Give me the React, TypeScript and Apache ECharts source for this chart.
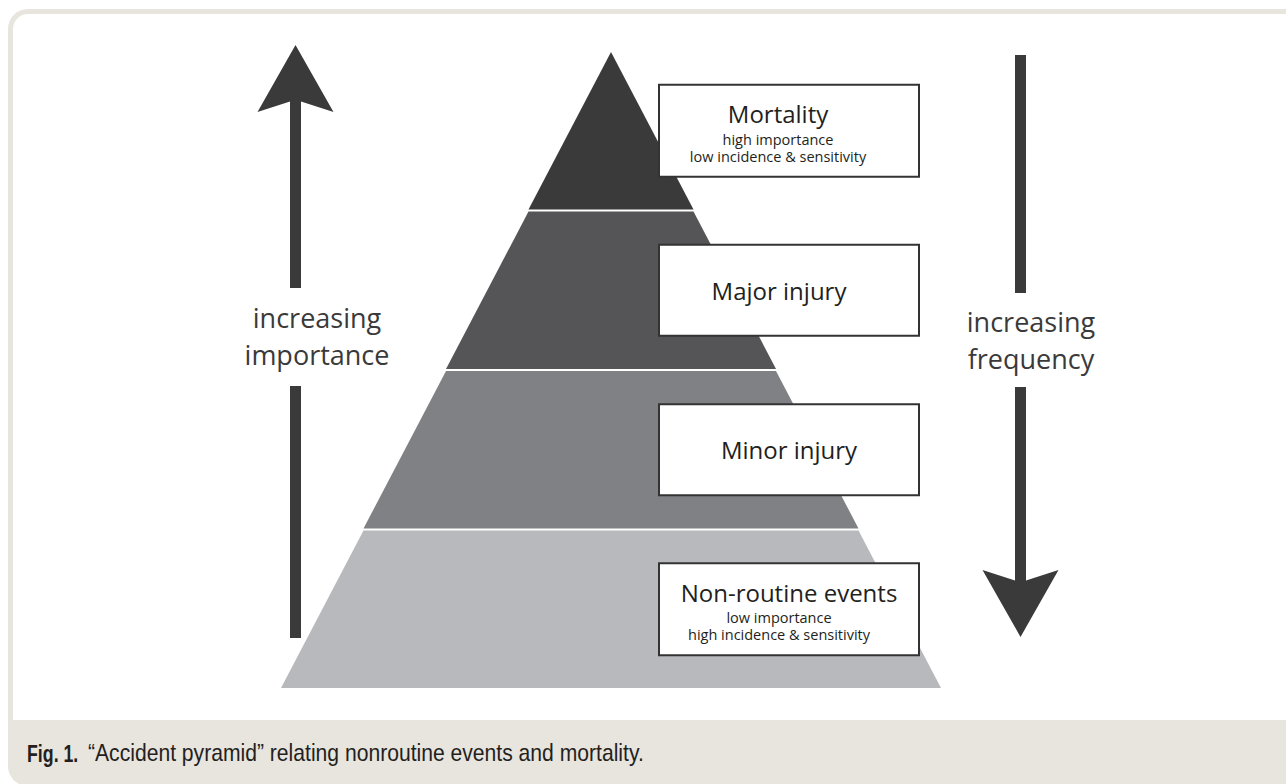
import React, { useEffect, useRef } from 'react';
import * as echarts from 'echarts';

// ---- data ----
const levels = ['Mortality', 'Major injury', 'Minor injury', 'Non-routine events'];
const levelValues = [25, 50, 75, 100];
const levelColors = ['#3a3a3b', '#555557', '#808184', '#b8b9bc'];
const levelNotes: string[][] = [
  ['high importance', 'low incidence & sensitivity'],
  [],
  [],
  ['low importance', 'high incidence & sensitivity'],
];
const leftArrowLabel = ['increasing', 'importance'];
const rightArrowLabel = ['increasing', 'frequency'];
const captionLabel = 'Fig. 1.';
const captionText = '\u201CAccident pyramid\u201D relating nonroutine events and mortality.';

const FONT = "'Open Sans', 'Noto Sans', sans-serif";
const CAPTION_FONT = "'Liberation Sans', Arial, sans-serif";
const DARK = '#3a3a3a';
const TEXT = '#231f20';
const FRAME = '#e8e4de';

export default function App() {
  const ref = useRef<HTMLDivElement>(null);

  useEffect(() => {
    if (!ref.current) return;
    const chart = echarts.init(ref.current, undefined, { renderer: 'svg' });

    // horizontal nudges of the text inside each box (title, notes)
    const titleShift = [22, 20, 0, 0];
    const noteKey = ['s', '', '', 'sl'];

    const data = levels.map((name, i) => {
      const notes = levelNotes[i];
      const multi = notes.length > 0;
      const sh = titleShift[i];
      return {
        name,
        value: levelValues[i],
        itemStyle: { color: levelColors[i] },
        label: {
          padding: multi ? [11, sh, 11, 0] : [30, sh, 30, 0],
          width: 258 - sh,
          formatter: multi
            ? `{t|${name}}\n` + notes.map((n) => `{${noteKey[i]}|${n}}`).join('\n')
            : `{m|${name}}`,
        },
      };
    });

    const sideText = (x: number, y: number, text: string) => ({
      type: 'text',
      silent: true,
      x,
      y,
      style: {
        text,
        font: `27px ${FONT}`,
        align: 'center',
        verticalAlign: 'middle',
        fill: DARK,
      },
    });

    const option: any = {
      animation: false,
      backgroundColor: 'transparent',
      graphic: [
        // outer frame
        {
          type: 'rect',
          z: -20,
          silent: true,
          shape: { x: 8, y: 9, width: 1300, height: 777, r: 20 },
          style: { fill: FRAME },
        },
        {
          type: 'rect',
          z: -19,
          silent: true,
          shape: { x: 13, y: 14, width: 1300, height: 706, r: [15, 0, 0, 0] },
          style: { fill: '#ffffff' },
        },
        // caption
        {
          type: 'text',
          silent: true,
          x: 27,
          y: 753,
          scaleX: 0.74,
          style: {
            text: captionLabel,
            font: `bold 24px ${CAPTION_FONT}`,
            verticalAlign: 'middle',
            align: 'left',
            fill: TEXT,
          },
        },
        {
          type: 'text',
          silent: true,
          x: 88,
          y: 753,
          scaleX: 0.88,
          style: {
            text: captionText,
            font: `24px ${CAPTION_FONT}`,
            verticalAlign: 'middle',
            align: 'left',
            fill: TEXT,
          },
        },
        // left arrow (up)
        {
          type: 'polygon',
          silent: true,
          shape: {
            points: [
              [295.5, 45],
              [333.5, 112],
              [301, 101.5],
              [290, 101.5],
              [257.5, 112],
            ],
          },
          style: { fill: DARK },
        },
        { type: 'rect', silent: true, shape: { x: 290, y: 100, width: 11, height: 188 }, style: { fill: DARK } },
        { type: 'rect', silent: true, shape: { x: 290, y: 386, width: 11, height: 252 }, style: { fill: DARK } },
        sideText(317, 317, leftArrowLabel[0]),
        sideText(317, 354, leftArrowLabel[1]),
        // right arrow (down)
        { type: 'rect', silent: true, shape: { x: 1015, y: 55, width: 11, height: 238 }, style: { fill: DARK } },
        { type: 'rect', silent: true, shape: { x: 1015, y: 387, width: 11, height: 198 }, style: { fill: DARK } },
        {
          type: 'polygon',
          silent: true,
          shape: {
            points: [
              [982.5, 570],
              [1015, 580.5],
              [1026, 580.5],
              [1058.5, 570],
              [1020.5, 637],
            ],
          },
          style: { fill: DARK },
        },
        sideText(1031, 321, rightArrowLabel[0]),
        sideText(1031, 358, rightArrowLabel[1]),
      ],
      series: [
        {
          type: 'funnel',
          left: 281,
          top: 52,
          width: 660,
          height: 636,
          sort: 'ascending',
          min: 0,
          max: 100,
          minSize: '0%',
          maxSize: '100%',
          gap: 2,
          funnelAlign: 'center',
          silent: true,
          emphasis: { disabled: true },
          itemStyle: { borderWidth: 0 },
          labelLine: { show: false },
          label: {
            show: true,
            position: 'inside',
            backgroundColor: '#ffffff',
            borderColor: '#333333',
            borderWidth: 2,
            align: 'center',
            verticalAlign: 'middle',
            color: TEXT,
            textBorderWidth: 0,
            rich: {
              t: { fontFamily: FONT, fontSize: 24, lineHeight: 34, color: TEXT, align: 'center' },
              m: { fontFamily: FONT, fontSize: 24, lineHeight: 29, color: TEXT, align: 'center' },
              s: { fontFamily: FONT, fontSize: 14.5, lineHeight: 17, color: TEXT, align: 'center' },
              sl: {
                fontFamily: FONT,
                fontSize: 14.5,
                lineHeight: 17,
                color: TEXT,
                align: 'center',
                padding: [0, 20, 0, 0],
              },
            },
          },
          labelLayout: () => ({ x: 789, align: 'center' }),
          data,
        },
      ],
    };

    chart.setOption(option);
    return () => chart.dispose();
  }, []);

  return (
    <div
      ref={ref}
      style={{ position: 'absolute', left: 0, top: 0, width: 1286, height: 784, background: '#ffffff' }}
    />
  );
}
